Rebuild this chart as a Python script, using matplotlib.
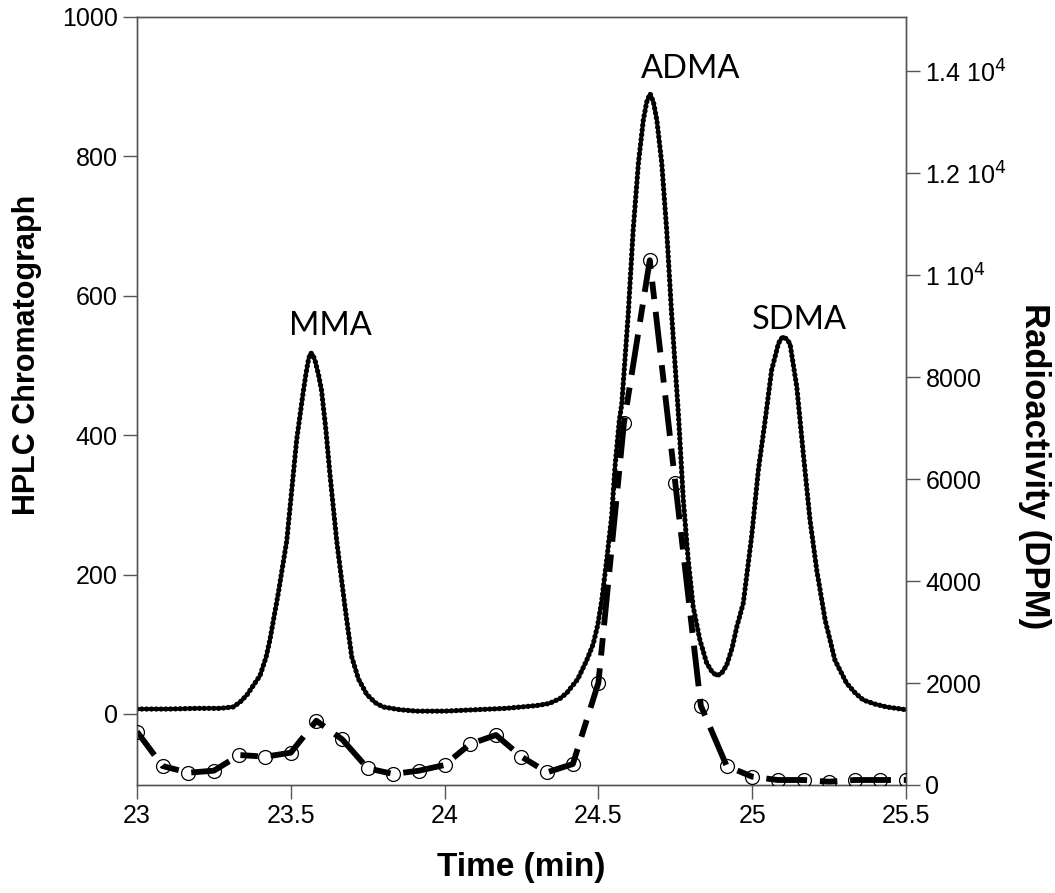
import matplotlib
matplotlib.use("Agg")
import matplotlib.pyplot as plt
from matplotlib.ticker import FixedLocator, FixedFormatter

# HPLC chromatograph trace (left axis)
hplc_time = [23.0, 23.1, 23.2, 23.27, 23.313, 23.335, 23.357, 23.38, 23.4, 23.42,
             23.432, 23.46, 23.487, 23.505, 23.519, 23.541, 23.55, 23.558, 23.565,
             23.572, 23.58, 23.59, 23.6, 23.614, 23.627, 23.649, 23.676,
             23.698, 23.72, 23.747, 23.775, 23.8, 23.855, 23.91, 24.0, 24.1, 24.2,
             24.3, 24.34, 24.375, 24.397, 24.433, 24.462, 24.483, 24.498, 24.511, 24.527,
             24.543, 24.554, 24.568, 24.576, 24.597, 24.613, 24.63, 24.646, 24.657, 24.668,
             24.679, 24.69, 24.706, 24.722, 24.738, 24.76, 24.776, 24.792, 24.808, 24.83,
             24.852, 24.87, 24.885, 24.9, 24.917, 24.935, 24.95, 24.971, 24.998, 25.02,
             25.042, 25.063, 25.085, 25.093, 25.101, 25.112, 25.123, 25.145, 25.166,
             25.188, 25.21, 25.237, 25.269, 25.307, 25.335, 25.361, 25.4, 25.437, 25.5]
hplc_signal = [7, 7, 8, 8, 10, 17, 27, 42, 55, 82,
               106, 175, 249, 330, 393, 464, 490, 510, 518,
               515, 505, 487, 464, 408, 345, 249, 154,
               82, 50, 28, 16, 10, 6, 4, 4, 6, 8,
               12, 15, 22, 30, 50, 77, 100, 128, 163, 221,
               283, 355, 421, 445, 574, 694, 790, 852, 878, 890,
               878, 852, 790, 694, 574, 431, 307, 221, 154, 106,
               73, 60, 55, 58, 70, 95, 125, 159, 254, 350,
               421, 493, 531, 538, 541, 538, 531, 469, 374,
               278, 206, 135, 77, 44, 30, 20, 14, 10, 6]

# Radioactivity (right axis), sampled every 5 s
radio_time = [23.0, 23.083, 23.167, 23.25, 23.333, 23.417, 23.5, 23.583, 23.667,
              23.75, 23.833, 23.917, 24.0, 24.083, 24.167, 24.25, 24.333, 24.417,
              24.5, 24.583, 24.667, 24.75, 24.833, 24.917, 25.0, 25.083, 25.167,
              25.25, 25.333, 25.417, 25.5]
radio_dpm = [1045, 372, 241, 281, 588, 555, 634, 1260, 895,
             327, 216, 281, 392, 804, 980, 555, 248, 412,
             2005, 7095, 10290, 5919, 1554, 372, 163, 98, 98,
             65, 98, 98, 98]

x_ticks = [23, 23.5, 24, 24.5, 25, 25.5]
x_tick_labels = ["23", "23.5", "24", "24.5", "25", "25.5"]
left_ticks = [0, 200, 400, 600, 800, 1000]
right_ticks = [0, 2000, 4000, 6000, 8000, 10000, 12000, 14000]
right_tick_labels = ["0", "2000", "4000", "6000", "8000",
                     "1 10$^{4}$", "1.2 10$^{4}$", "1.4 10$^{4}$"]

peak_labels = ["MMA", "ADMA", "SDMA"]
peak_label_x = [23.63, 24.80, 25.155]
peak_label_y = [557, 926, 565]

plt.rcParams['font.family'] = ['Liberation Sans', 'DejaVu Sans']
spine_col = '#555555'

W, H = 1055, 893
fig = plt.figure(figsize=(W / 100, H / 100), dpi=100)
ax = fig.add_axes([137 / W, 1 - 785 / H, (906 - 137) / W, (785 - 17) / H])
ax2 = ax.twinx()

# HPLC trace: solid line with beads
ax.plot(hplc_time, hplc_signal, color='black', lw=2.6, zorder=3,
        solid_joinstyle='round', solid_capstyle='round')
ax.plot(hplc_time, hplc_signal, color='black', lw=3.8, linestyle=(0, (0.01, 0.9)),
        dash_capstyle='round', zorder=3)

# Radioactivity trace
ax2.plot(radio_time, radio_dpm, color='black', lw=4.2, linestyle=(2, (7, 2.2, 3, 2.2)),
         zorder=2)
ax2.plot(radio_time, radio_dpm, linestyle='none', marker='o', markersize=10,
         markerfacecolor='none', markeredgecolor='black', markeredgewidth=0.9, zorder=4)

ax.set_xlim(23, 25.5)
ax.set_ylim(-102, 1000)
ax2.set_ylim(0, 15060)

ax.xaxis.set_major_locator(FixedLocator(x_ticks))
ax.xaxis.set_major_formatter(FixedFormatter(x_tick_labels))
ax.yaxis.set_major_locator(FixedLocator(left_ticks))
ax2.yaxis.set_major_locator(FixedLocator(right_ticks))
ax2.yaxis.set_major_formatter(FixedFormatter(right_tick_labels))

for a in (ax, ax2):
    for s in a.spines.values():
        s.set_color(spine_col)
        s.set_linewidth(1.0)
ax.tick_params(axis='both', direction='out', length=10, width=1.0, color=spine_col,
               labelsize=18, pad=4)
ax.tick_params(axis='y', right=False)
ax2.tick_params(axis='y', direction='out', length=10, width=1.0, color=spine_col,
                labelsize=18, pad=4)

ax.set_xlabel("Time (min)", fontsize=24, fontweight='bold', labelpad=17)
fig.text(27 / W, 1 - 355 / H, "HPLC Chromatograph", fontsize=22, fontweight='bold',
         rotation=90, ha='center', va='center')
fig.text(1035 / W, 1 - 466 / H, "Radioactivity (DPM)", fontsize=25, fontweight='bold',
         rotation=270, ha='center', va='center')

for lab, xx, yy in zip(peak_labels, peak_label_x, peak_label_y):
    ax.text(xx, yy, lab, fontsize=23.5, family=['Lato', 'DejaVu Sans'],
            ha='center', va='center', zorder=5)

fig.savefig("out.png", dpi=100)
